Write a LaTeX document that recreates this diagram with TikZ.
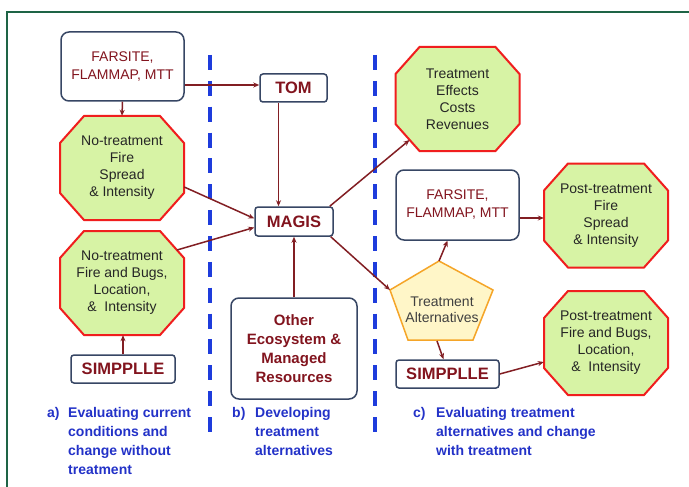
\documentclass[tikz,border=0pt]{standalone}
\usepackage{fontspec}
\setmainfont{Liberation Sans}
\usetikzlibrary{arrows.meta,calc}
\definecolor{framec}{RGB}{30,100,70}
\definecolor{dashc}{RGB}{30,60,220}
\definecolor{arrc}{RGB}{130,30,35}
\definecolor{boxc}{RGB}{55,70,100}
\definecolor{maroonc}{RGB}{130,20,30}
\definecolor{octfill}{RGB}{215,243,165}
\definecolor{octline}{RGB}{240,30,30}
\definecolor{penfill}{RGB}{255,246,200}
\definecolor{penline}{RGB}{245,165,40}
\definecolor{labc}{RGB}{35,50,200}
\newcommand{\octnode}[4]{%
  \filldraw[octshape] ({#2-38},{#3-52}) -- ({#2+38},{#3-52}) -- ({#2+62},{#3-25}) -- ({#2+62},{#3+25})
    -- ({#2+38},{#3+52}) -- ({#2-38},{#3+52}) -- ({#2-62},{#3+25}) -- ({#2-62},{#3-25}) -- cycle;
  \node[octtext] (#1) at (#2,#3) {#4};}
\begin{document}
\begin{tikzpicture}[x=1pt,y=-1pt,
  octshape/.style={fill=octfill,draw=octline,line width=2pt},
  octtext/.style={rectangle,minimum width=124pt,minimum height=104pt,inner sep=0pt,align=center,
    text=black!85,font=\fontsize{14}{17}\selectfont},
  bigbox/.style={draw=boxc,line width=1.5pt,fill=white,rounded corners=8pt,align=center,inner sep=0pt},
  smallbox/.style={draw=boxc,line width=1.5pt,fill=white,rounded corners=3pt,align=center,inner sep=0pt,
    text=maroonc,font=\fontsize{16.5}{19}\selectfont\bfseries},
  arr/.style={draw=arrc,line width=1.5pt,-{Stealth[length=6pt,width=5pt]}},
  dashline/.style={draw=dashc,line width=3.5pt,dash pattern=on 15pt off 10.86pt},
  lab/.style={text=labc,font=\fontsize{14}{19}\selectfont\bfseries,align=left,inner sep=0pt,anchor=north west}]
\useasboundingbox (0,0) rectangle (689,487);
\fill[white] (0,0) rectangle (689,487);
% frame
\draw[framec,line width=1.5pt] (689,12) -- (7,12) -- (7,487);
% dashed separators
\draw[dashline] (210,55) -- (210,432);
\draw[dashline] (375,55) -- (375,432);
% boxes
\node[bigbox,minimum width=123pt,minimum height=69pt,text=maroonc,font=\fontsize{14}{18}\selectfont] (far1) at (122.5,66.5) {FARSITE,\\FLAMMAP, MTT};
\node[smallbox,minimum width=67pt,minimum height=28pt] (tom) at (293.5,88) {TOM};
\node[smallbox,minimum width=78pt,minimum height=29pt] (magis) at (294,221.5) {MAGIS};
\node[smallbox,minimum width=104pt,minimum height=28pt] (simpl) at (123,369) {SIMPPLLE};
\node[bigbox,minimum width=126pt,minimum height=101pt,text=maroonc,font=\fontsize{15}{19}\selectfont\bfseries] (other) at (294,348.5) {Other\\Ecosystem \&\\Managed\\Resources};
\node[bigbox,minimum width=123pt,minimum height=70pt,text=maroonc,font=\fontsize{14}{18}\selectfont] (far2) at (457.5,205) {FARSITE,\\FLAMMAP, MTT};
\node[smallbox,minimum width=103pt,minimum height=28pt] (simpr) at (447.5,374) {SIMPPLLE};
% octagons
\octnode{oct1}{122}{168}{No-treatment\\Fire\\Spread\\\& Intensity}
\octnode{oct2}{122}{283}{No-treatment\\Fire and Bugs,\\Location,\\\&\ \ Intensity}
\octnode{te}{457.5}{99}{Treatment\\Effects\\Costs\\Revenues}
\octnode{post1}{606}{215.5}{Post-treatment\\Fire\\Spread\\\& Intensity}
\octnode{post2}{606}{343}{Post-treatment\\Fire and Bugs,\\Location,\\\&\ \ Intensity}
% pentagon
\coordinate (ptop) at (439,261);
\coordinate (pleft) at (390,290);
\coordinate (pright) at (493,290);
\coordinate (pbr) at (473,340);
\coordinate (pbl) at (408,340);
\coordinate (pbot) at (437,341);
\filldraw[fill=penfill,draw=penline,line width=1.5pt] (ptop) -- (pright) -- (pbr) -- (pbl) -- (pleft) -- cycle;
\node[align=center,inner sep=0pt,text=black!75,font=\fontsize{14}{16.5}\selectfont] (talt) at (442,310) {Treatment\\Alternatives};
% arrows
\draw[arr] (far1.south) -- (oct1.north);
\draw[arr] ([yshift=3pt]far1.east |- tom.west) -- ([yshift=3pt]tom.west);
\draw[arr] ([xshift=-15pt]tom.south) -- ([xshift=-15pt]tom.south |- magis.north);
\draw[arr] ([yshift=-19pt]oct1.east) -- ([yshift=3pt]magis.west);
\draw[arr] ($(oct2.center)+(55,-33)$) -- ([yshift=-6pt]magis.west);
\draw[arr] (simpl.north) -- (simpl.north |- oct2.south);
\draw[arr] (other.north) -- (other.north |- magis.south);
\draw[arr] ([xshift=-4pt]magis.north east) -- ($(te.center)+(-48,41)$);
\draw[arr] ([xshift=-3pt]magis.south east) -- (pleft);
\draw[arr] (ptop) -- ([xshift=-10pt]far2.south);
\draw[arr] (pbot) -- ([xshift=-4pt]simpr.north);
\draw[arr] ([yshift=-13pt]far2.east) -- ([yshift=-13pt]far2.east -| post1.west);
\draw[arr] (simpr.east) -- ([yshift=-19pt]post2.west);
% labels
\node[lab] (la) at (47,407) {a)};
\node[lab] (lat) at (68,407) {Evaluating current\\conditions and\\change without\\treatment};
\node[lab] (lb) at (232,407) {b)};
\node[lab] (lbt) at (255,407) {Developing\\treatment\\alternatives};
\node[lab] (lc) at (413,407) {c)};
\node[lab] (lct) at (436,407) {Evaluating treatment\\alternatives and change\\with treatment};
\end{tikzpicture}
\end{document}
